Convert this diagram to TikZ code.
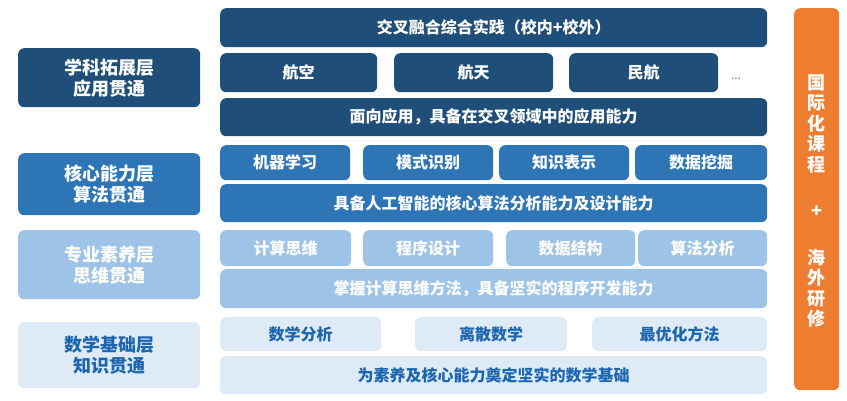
\documentclass[tikz,border=0pt]{standalone}
\usepackage{fontspec}
\setmainfont{Noto Sans CJK SC}
\definecolor{navyc}{HTML}{1F4E79}
\definecolor{bluec}{HTML}{2E75B6}
\definecolor{lightc}{HTML}{9DC3E6}
\definecolor{palec}{HTML}{DEEBF7}
\definecolor{paletext}{HTML}{1C66B0}
\definecolor{orangec}{HTML}{ED7D31}
\begin{document}
\begin{tikzpicture}[x=1pt, y=-1pt,
  box/.style={rounded corners=6pt, inner sep=0pt, anchor=north west,
    text=white, font=\fontsize{16}{16}\selectfont\bfseries},
  layer/.style={minimum width=182, align=center,
    font=\fontsize{18}{21}\selectfont\bfseries},
  navy/.style={box, fill=navyc},
  mid/.style={box, fill=bluec},
  light/.style={box, fill=lightc},
  pale/.style={box, fill=palec, text=paletext},
  side/.style={text=white, align=center, inner sep=0pt,
    font=\fontsize{18}{20.5}\selectfont\bfseries}]

\useasboundingbox (0,0) rectangle (847,400);

% left column
\node[navy, layer, minimum height=59] (L1) at (18,48) {学科拓展层\\应用贯通};
\node[mid, layer, minimum height=62] (L2) at (18,153) {核心能力层\\算法贯通};
\node[light, layer, minimum height=69] (L3) at (18,230) {专业素养层\\思维贯通};
\node[pale, layer, minimum height=66] (L4) at (18,322) {数学基础层\\知识贯通};

% application layer
\node[navy, minimum width=547, minimum height=39] (practice) at (220,8) {交叉融合综合实践（校内+校外）};
\node[navy, minimum width=157, minimum height=39] (aero) at (220,53) {航空};
\node[navy, minimum width=159, minimum height=39] (space) at (394,53) {航天};
\node[navy, minimum width=149, minimum height=39] (civil) at (569,53) {民航};
\node[text=gray, font=\fontsize{12}{12}\selectfont] (more) at (736,79) {...};
\node[navy, minimum width=547, minimum height=38] (apply) at (220,98) {面向应用，具备在交叉领域中的应用能力};

% algorithm layer
\node[mid, minimum width=130, minimum height=35] (ml) at (220,145) {机器学习};
\node[mid, minimum width=130, minimum height=35] (pr) at (363,145) {模式识别};
\node[mid, minimum width=130, minimum height=35] (kr) at (499,145) {知识表示};
\node[mid, minimum width=132, minimum height=35] (dm) at (635,145) {数据挖掘};
\node[mid, minimum width=547, minimum height=38] (core) at (220,184) {具备人工智能的核心算法分析能力及设计能力};

% thinking layer
\node[light, minimum width=131, minimum height=36] (ct) at (220,230) {计算思维};
\node[light, minimum width=130, minimum height=36] (pd) at (363,230) {程序设计};
\node[light, minimum width=129, minimum height=36] (ds) at (506,230) {数据结构};
\node[light, minimum width=129, minimum height=36] (aa) at (638,230) {算法分析};
\node[light, minimum width=547, minimum height=39] (method) at (220,269) {掌握计算思维方法，具备坚实的程序开发能力};

% math layer
\node[pale, minimum width=161, minimum height=34] (ma) at (220,317) {数学分析};
\node[pale, minimum width=152, minimum height=34] (dmath) at (415,317) {离散数学};
\node[pale, minimum width=175, minimum height=34] (opt) at (592,317) {最优化方法};
\node[pale, minimum width=547, minimum height=38] (base) at (220,356) {为素养及核心能力奠定坚实的数学基础};

% orange bar
\node[box, fill=orangec, minimum width=45, minimum height=382] (bar) at (794,8) {};
\node[side] (intl) at (816.5,123.5) {国\\际\\化\\课\\程};
\node[side] (plus) at (816.5,212) {+};
\node[side] (abroad) at (816.5,288) {海\\外\\研\\修};

\end{tikzpicture}
\end{document}
